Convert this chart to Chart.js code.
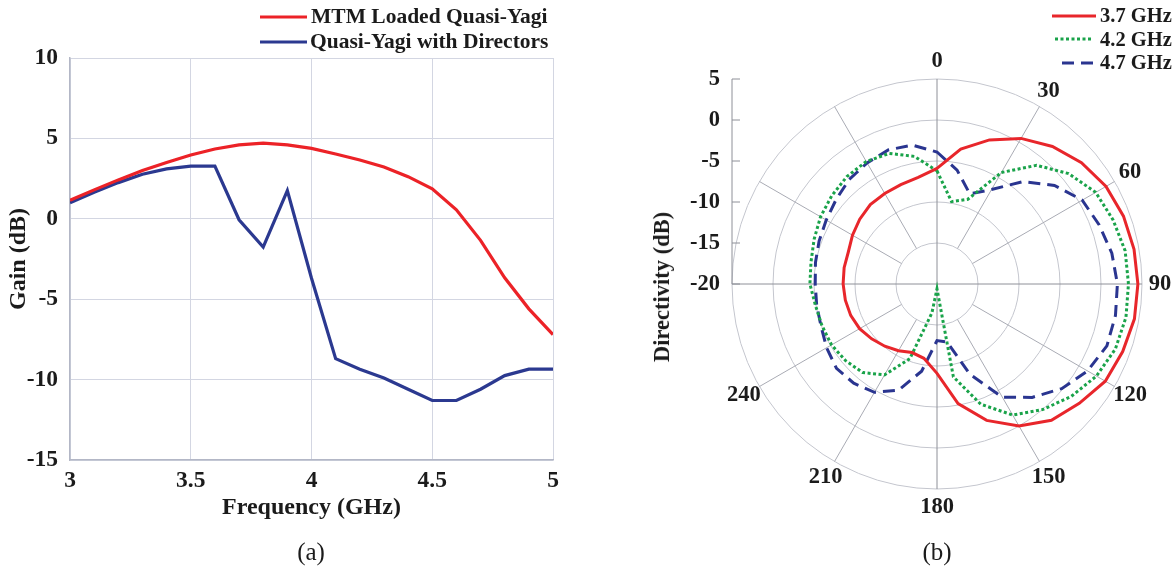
<!DOCTYPE html>
<html>
<head>
<meta charset="utf-8">
<script src="https://cdn.jsdelivr.net/npm/chart.js@4.4.1/dist/chart.umd.min.js"></script>
<style>
  body { margin: 0; background: #fff; width: 1173px; height: 569px; overflow: hidden; position: relative;
         font-family: 'Liberation Serif', 'Times New Roman', serif; color: #1b1b1b; }
  canvas { position: absolute; top: 0; }
  #gain { left: 0; }
  #polar { left: 640px; }
  .leg { position: absolute; font-weight: bold; white-space: nowrap; }
  .leg .row { display: flex; align-items: center; }
  .leg svg { display: block; }
  .cap { position: absolute; font-size: 25px; transform: translate(-50%, -50%); }
  .ytitle { position: absolute; font-weight: bold; font-size: 22.5px; white-space: nowrap;
            transform: translate(-50%, -50%) rotate(-90deg); }
</style>
</head>
<body>
<canvas id="gain" width="600" height="569"></canvas>
<canvas id="polar" width="533" height="569"></canvas>

<div class="leg" style="left:260px; top:4px; font-size:21.5px;">
  <div class="row" style="height:25px;"><svg width="47" height="6"><line x1="0" y1="3" x2="47" y2="3" stroke="#ec2227" stroke-width="3.2"/></svg><span style="margin-left:4px">MTM Loaded Quasi-Yagi</span></div>
  <div class="row" style="height:25px;"><svg width="47" height="6"><line x1="0" y1="3" x2="47" y2="3" stroke="#2b3990" stroke-width="3.2"/></svg><span style="margin-left:3px">Quasi-Yagi with Directors</span></div>
</div>

<div class="leg" style="left:1052px; top:4px; font-size:20.5px;">
  <div class="row" style="height:23.5px;"><svg width="44" height="6"><line x1="0" y1="3" x2="44" y2="3" stroke="#e8262b" stroke-width="3"/></svg><span style="margin-left:4px">3.7 GHz</span></div>
  <div class="row" style="height:23.5px;"><svg width="44" height="6"><line x1="3" y1="3" x2="41" y2="3" stroke="#1aa34a" stroke-width="3" stroke-dasharray="3 2.5"/></svg><span style="margin-left:4px">4.2 GHz</span></div>
  <div class="row" style="height:23.5px;"><svg width="44" height="6"><line x1="10" y1="3" x2="43" y2="3" stroke="#2a3590" stroke-width="3" stroke-dasharray="12 7"/></svg><span style="margin-left:4px">4.7 GHz</span></div>
</div>

<div class="ytitle" style="left:662px; top:287px;">Directivity (dB)</div>
<div class="cap" style="left:311px; top:552px;">(a)</div>
<div class="cap" style="left:937px; top:552px;">(b)</div>

<script>
// ---- panel (a): gain vs frequency ----
const freq = [3.0, 3.1, 3.2, 3.3, 3.4, 3.5, 3.6, 3.7, 3.8, 3.9, 4.0, 4.1, 4.2, 4.3, 4.4, 4.5, 4.6, 4.7, 4.8, 4.9, 5.0];
const mtmGain = [1.15, 1.8, 2.42, 3.0, 3.5, 3.97, 4.34, 4.6, 4.7, 4.6, 4.38, 4.03, 3.66, 3.22, 2.62, 1.86, 0.56, -1.34, -3.67, -5.6, -7.2];
const dirGain = [1.0, 1.65, 2.25, 2.77, 3.1, 3.28, 3.28, -0.06, -1.76, 1.75, -3.7, -8.7, -9.35, -9.9, -10.6, -11.3, -11.3, -10.6, -9.75, -9.35, -9.35];
const freqTicks = [3, 3.5, 4, 4.5, 5];
const gainTicks = [-15, -10, -5, 0, 5, 10];

// ---- panel (b): directivity pattern, every 10 degrees ----
const angles = [0, 10, 20, 30, 40, 50, 60, 70, 80, 90, 100, 110, 120, 130, 140, 150, 160, 170,
                180, 190, 200, 210, 220, 230, 240, 250, 260, 270, 280, 290, 300, 310, 320, 330, 340, 350];
const dir37 = [-5.9, -3.3, -1.3, 0.5, 1.9, 3.0, 3.8, 4.2, 4.4, 4.5, 4.45, 4.1, 3.7, 2.65, 1.7, 0.0, -2.3, -5.2,
               -9.1, -10.8, -11.1, -10.6, -10.1, -9.6, -9.1, -8.8, -8.65, -8.55, -8.5, -8.5, -8.1, -7.7, -7.35, -7.25, -7.1, -6.8];
const dir42 = [-6.2, -9.8, -9.0, -4.3, -1.1, 0.95, 2.35, 2.85, 3.3, 3.35, 3.4, 3.15, 2.45, 1.35, 0.0, -1.55, -4.4, -8.5,
               -19.4, -16.4, -10.3, -7.2, -5.9, -5.45, -5.15, -5.08, -4.95, -4.5, -4.4, -4.05, -3.6, -3.25, -2.9, -2.75, -3.05, -4.2];
const dir47 = [-3.9, -5.9, -8.3, -6.7, -3.7, -1.3, 0.45, 1.05, 1.65, 2.0, 2.1, 2.05, 1.2, -0.15, -1.95, -4.05, -8.3, -12.8,
               -13.1, -9.2, -6.2, -4.75, -4.2, -4.0, -4.45, -4.95, -5.1, -5.15, -4.95, -4.7, -4.4, -3.95, -3.35, -2.95, -2.6, -2.8];
const dirTicks = [-20, -15, -10, -5, 0, 5];
const shownAngles = [0, 30, 60, 90, 120, 150, 180, 210, 240];

const serif = "'Liberation Serif', 'Times New Roman', serif";
Chart.defaults.font.family = serif;
Chart.defaults.color = '#1b1b1b';

new Chart(document.getElementById('gain'), {
  type: 'line',
  data: {
    datasets: [
      { label: 'MTM Loaded Quasi-Yagi', data: freq.map((f, i) => ({ x: f, y: mtmGain[i] })),
        borderColor: '#ec2227', borderWidth: 3.2, pointRadius: 0, fill: false },
      { label: 'Quasi-Yagi with Directors', data: freq.map((f, i) => ({ x: f, y: dirGain[i] })),
        borderColor: '#2b3990', borderWidth: 3.2, pointRadius: 0, fill: false }
    ]
  },
  options: {
    responsive: false,
    animation: false,
    layout: { padding: { top: 58, right: 47, left: 0, bottom: 0 } },
    plugins: { legend: { display: false }, tooltip: { enabled: false } },
    scales: {
      x: {
        type: 'linear', min: 3, max: 5,
        afterBuildTicks: s => { s.ticks = freqTicks.map(v => ({ value: v })); },
        afterFit: s => { s.height = 109; },
        grid: { color: '#d3d6e2', drawTicks: false },
        border: { color: '#b3b7c6', width: 1.5 },
        ticks: { font: { size: 23.5, weight: 'bold' }, padding: 7, maxRotation: 0, callback: v => String(v) },
        title: { display: true, text: 'Frequency (GHz)', font: { size: 24, weight: 'bold' }, padding: { top: 0, bottom: 46.6 } }
      },
      y: {
        min: -15, max: 10,
        afterBuildTicks: s => { s.ticks = gainTicks.map(v => ({ value: v })); },
        afterFit: s => { s.width = 70; },
        grid: { color: '#d3d6e2', drawTicks: false },
        border: { color: '#b3b7c6', width: 1.5 },
        ticks: { font: { size: 23.5, weight: 'bold' }, padding: 12, callback: v => String(v) },
        title: { display: true, text: 'Gain (dB)', font: { size: 24, weight: 'bold' }, padding: { top: 4, bottom: 0 } }
      }
    }
  }
});

// spokes, value axis on the left and angle labels for the polar panel
const polarFrame = {
  id: 'polarFrame',
  beforeDatasetsDraw(chart) {
    const r = chart.scales.r, ctx = chart.ctx;
    ctx.save();
    ctx.lineWidth = 1;
    angles.forEach((a, i) => {
      if (a % 30 !== 0) return;
      const axis = a % 90 === 0;
      const p0 = r.getPointPositionForValue(i, axis ? r.min : -15);
      const p1 = r.getPointPositionForValue(i, r.max);
      ctx.strokeStyle = axis ? '#8e9098' : '#a9abb4';
      ctx.beginPath(); ctx.moveTo(p0.x, p0.y); ctx.lineTo(p1.x, p1.y); ctx.stroke();
    });

    const x0 = r.xCenter - r.drawingArea;
    ctx.strokeStyle = '#8e9098';
    ctx.beginPath(); ctx.moveTo(x0, r.yCenter - r.drawingArea); ctx.lineTo(x0, r.yCenter); ctx.stroke();
    ctx.font = 'bold 22.5px ' + serif;
    ctx.fillStyle = '#1b1b1b';
    ctx.textAlign = 'right';
    ctx.textBaseline = 'middle';
    r.ticks.forEach(t => {
      const y = r.yCenter - r.getDistanceFromCenterForValue(t.value);
      ctx.beginPath(); ctx.moveTo(x0, y); ctx.lineTo(x0 + 8, y); ctx.stroke();
      ctx.fillText(String(t.value), x0 - 12, y);
    });

    ctx.textAlign = 'center';
    angles.forEach((a, i) => {
      if (!shownAngles.includes(a)) return;
      const p = r.getPointPosition(i, r.drawingArea + 18);
      ctx.fillText(String(a), p.x, p.y);
    });
    ctx.restore();
  }
};

new Chart(document.getElementById('polar'), {
  type: 'radar',
  data: {
    labels: angles.map(String),
    datasets: [
      { label: '3.7 GHz', data: dir37, borderColor: '#e8262b', borderWidth: 3, fill: false, pointRadius: 0 },
      { label: '4.2 GHz', data: dir42, borderColor: '#1aa34a', borderWidth: 3, borderDash: [3, 2.5], fill: false, pointRadius: 0 },
      { label: '4.7 GHz', data: dir47, borderColor: '#2a3590', borderWidth: 3, borderDash: [12, 7], fill: false, pointRadius: 0 }
    ]
  },
  options: {
    responsive: false,
    animation: false,
    layout: { padding: { left: 92, right: 31, top: 79, bottom: 80 } },
    plugins: { legend: { display: false }, tooltip: { enabled: false } },
    elements: { line: { tension: 0 } },
    scales: {
      r: {
        min: dirTicks[0], max: dirTicks[dirTicks.length - 1],
        afterBuildTicks: s => { s.ticks = dirTicks.map(v => ({ value: v })); },
        ticks: { display: false },
        grid: { circular: true, color: '#c4c6ce', lineWidth: 1 },
        angleLines: { display: false },
        pointLabels: { display: false }
      }
    }
  },
  plugins: [polarFrame]
});
</script>
</body>
</html>
